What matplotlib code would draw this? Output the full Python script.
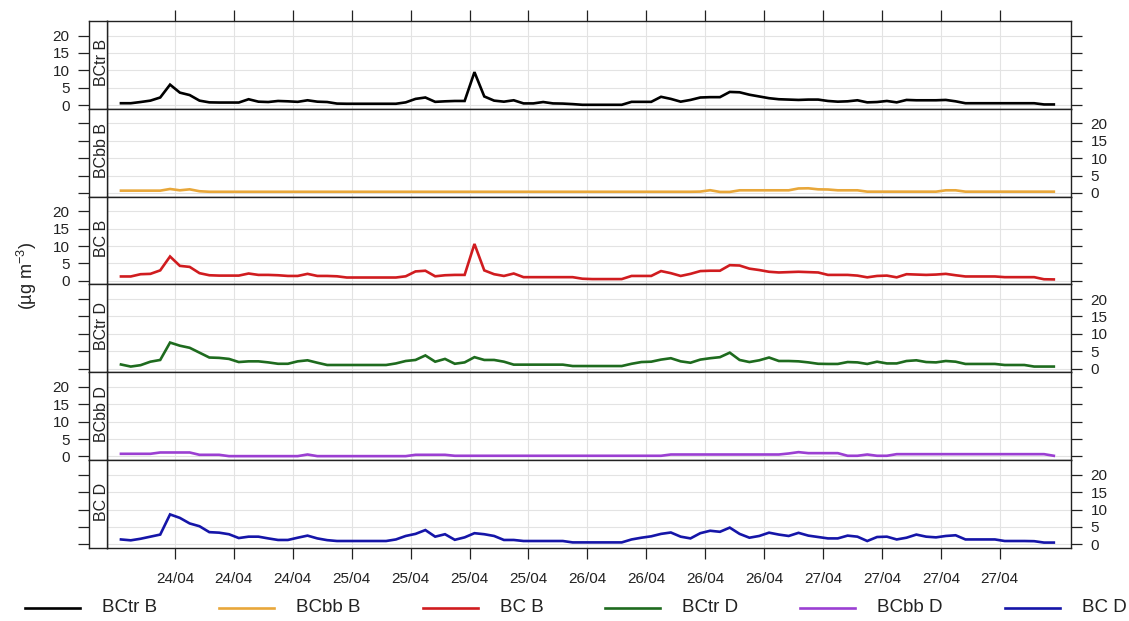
import numpy as np
import pandas as pd
import matplotlib
matplotlib.use("Agg")
import matplotlib.pyplot as plt
import matplotlib.dates as mdates
from matplotlib.lines import Line2D

plt.rcParams['font.family'] = ['Liberation Sans', 'DejaVu Sans']
plt.rcParams['mathtext.fontset'] = 'custom'
plt.rcParams['mathtext.rm'] = 'Liberation Sans'

# hourly black carbon concentrations, 24/04 00:30 onwards
times = pd.date_range('2019-04-24 00:30', periods=96, freq='h')

bctr_b = [0.55, 0.55, 0.9, 1.3, 2.2, 5.9, 3.6, 2.9, 1.3, 0.8, 0.75, 0.75,
          0.75, 1.7, 1.0, 0.9, 1.2, 1.1, 0.95, 1.4, 1.0, 0.9, 0.45, 0.4,
          0.4, 0.4, 0.4, 0.4, 0.4, 0.8, 1.8, 2.2, 0.95, 1.1, 1.2, 1.2,
          9.5, 2.5, 1.3, 1.0, 1.4, 0.5, 0.5, 0.9, 0.5, 0.45, 0.3, 0.1,
          0.1, 0.1, 0.1, 0.1, 0.95, 0.95, 0.95, 2.4, 1.8, 1.0, 1.5, 2.2,
          2.3, 2.3, 3.8, 3.7, 3.0, 2.5, 2.0, 1.7, 1.6, 1.5, 1.6, 1.6,
          1.2, 1.0, 1.1, 1.4, 0.8, 0.9, 1.2, 0.8, 1.5, 1.4, 1.4, 1.4,
          1.5, 1.1, 0.55, 0.55, 0.55, 0.55, 0.55, 0.55, 0.55, 0.55, 0.2, 0.2]

bcbb_b = [0.67, 0.67, 0.67, 0.67, 0.67, 1.15, 0.77, 1.05, 0.5, 0.35, 0.35, 0.35,
          0.35, 0.35, 0.35, 0.35, 0.35, 0.35, 0.35, 0.35, 0.35, 0.35, 0.35, 0.35,
          0.35, 0.35, 0.35, 0.35, 0.35, 0.35, 0.35, 0.35, 0.35, 0.35, 0.35, 0.35,
          0.35, 0.35, 0.35, 0.35, 0.35, 0.35, 0.35, 0.35, 0.35, 0.35, 0.35, 0.35,
          0.35, 0.35, 0.35, 0.35, 0.35, 0.35, 0.35, 0.35, 0.35, 0.35, 0.35, 0.4,
          0.8, 0.3, 0.3, 0.77, 0.77, 0.77, 0.77, 0.77, 0.77, 1.3, 1.35, 1.05,
          1.0, 0.77, 0.77, 0.77, 0.38, 0.38, 0.38, 0.38, 0.38, 0.38, 0.38, 0.38,
          0.77, 0.77, 0.38, 0.38, 0.38, 0.38, 0.38, 0.38, 0.38, 0.38, 0.38, 0.38]

bc_b = [1.25, 1.25, 1.9, 2.0, 3.0, 7.0, 4.3, 4.0, 2.2, 1.6, 1.5, 1.5,
        1.5, 2.1, 1.7, 1.7, 1.6, 1.4, 1.4, 2.0, 1.4, 1.4, 1.3, 0.95,
        0.95, 0.95, 0.95, 0.95, 0.95, 1.3, 2.7, 2.9, 1.3, 1.6, 1.7, 1.7,
        10.6, 3.0, 1.9, 1.4, 2.1, 1.05, 1.05, 1.05, 1.05, 1.05, 1.05, 0.6,
        0.5, 0.5, 0.5, 0.5, 1.4, 1.4, 1.4, 2.8, 2.2, 1.4, 2.0, 2.8,
        2.9, 2.9, 4.5, 4.4, 3.5, 3.1, 2.6, 2.4, 2.5, 2.6, 2.5, 2.4,
        1.7, 1.7, 1.7, 1.5, 1.0, 1.4, 1.5, 1.0, 1.9, 1.8, 1.7, 1.8,
        2.0, 1.6, 1.25, 1.25, 1.25, 1.25, 1.05, 1.05, 1.05, 1.05, 0.45, 0.4]

bctr_d = [1.2, 0.6, 1.0, 2.0, 2.5, 7.5, 6.6, 6.0, 4.6, 3.2, 3.1, 2.8,
          1.9, 2.1, 2.1, 1.8, 1.4, 1.4, 2.1, 2.4, 1.7, 1.05, 1.05, 1.05,
          1.05, 1.05, 1.05, 1.05, 1.5, 2.2, 2.5, 3.8, 2.0, 2.8, 1.4, 1.8,
          3.3, 2.5, 2.5, 2.0, 1.15, 1.15, 1.15, 1.15, 1.15, 1.15, 0.75, 0.75,
          0.75, 0.75, 0.75, 0.75, 1.4, 1.9, 2.0, 2.6, 3.0, 2.1, 1.7, 2.6,
          3.0, 3.3, 4.6, 2.5, 1.9, 2.4, 3.2, 2.2, 2.2, 2.1, 1.8, 1.4,
          1.35, 1.35, 1.9, 1.8, 1.35, 2.0, 1.5, 1.5, 2.2, 2.4, 1.9, 1.8,
          2.2, 2.0, 1.35, 1.35, 1.35, 1.35, 1.05, 1.05, 1.05, 0.6, 0.6, 0.6]

bcbb_d = [0.77, 0.77, 0.77, 0.77, 1.15, 1.15, 1.15, 1.15, 0.48, 0.48, 0.48, 0.1,
          0.1, 0.1, 0.1, 0.1, 0.1, 0.1, 0.1, 0.57, 0.1, 0.1, 0.1, 0.1,
          0.1, 0.1, 0.1, 0.1, 0.1, 0.1, 0.48, 0.48, 0.48, 0.48, 0.2, 0.2,
          0.2, 0.2, 0.2, 0.2, 0.2, 0.2, 0.2, 0.2, 0.2, 0.2, 0.2, 0.2,
          0.2, 0.2, 0.2, 0.2, 0.2, 0.2, 0.2, 0.2, 0.57, 0.57, 0.57, 0.57,
          0.57, 0.57, 0.57, 0.57, 0.57, 0.57, 0.57, 0.57, 0.86, 1.25, 0.96, 0.96,
          0.96, 0.96, 0.2, 0.2, 0.57, 0.2, 0.2, 0.67, 0.67, 0.67, 0.67, 0.67,
          0.67, 0.67, 0.67, 0.67, 0.67, 0.67, 0.67, 0.67, 0.67, 0.67, 0.67, 0.2]

bc_d = [1.4, 1.15, 1.6, 2.2, 2.8, 8.6, 7.6, 6.0, 5.2, 3.5, 3.35, 2.9,
        1.8, 2.2, 2.2, 1.7, 1.25, 1.25, 1.9, 2.5, 1.7, 1.2, 0.95, 0.95,
        0.95, 0.95, 0.95, 0.95, 1.4, 2.4, 3.0, 4.1, 2.2, 2.9, 1.3, 2.0,
        3.2, 2.9, 2.4, 1.25, 1.25, 0.95, 0.95, 0.95, 0.95, 0.95, 0.55, 0.55,
        0.55, 0.55, 0.55, 0.55, 1.4, 1.9, 2.3, 3.0, 3.4, 2.2, 1.7, 3.2,
        3.9, 3.6, 4.8, 3.0, 1.9, 2.4, 3.35, 2.8, 2.4, 3.3, 2.5, 2.1,
        1.7, 1.7, 2.5, 2.2, 0.95, 2.1, 2.2, 1.4, 1.9, 2.8, 2.2, 2.0,
        2.4, 2.6, 1.4, 1.4, 1.4, 1.4, 0.95, 0.95, 0.95, 0.9, 0.5, 0.5]

names = ['BCtr B', 'BCbb B', 'BC B', 'BCtr D', 'BCbb D', 'BC D']
series = [bctr_b, bcbb_b, bc_b, bctr_d, bcbb_d, bc_d]
colors = ['#000000', '#E8A73A', '#D01C1F', '#1E6B1E', '#9B3FD2', '#1515A8']

W, H = 1129, 621
fig = plt.figure(figsize=(W / 100, H / 100), dpi=100)

x_left, x_strip, x_right = 89, 107, 1071
y_top, y_bot = 21, 548
ph = (y_bot - y_top) / 6

start = pd.Timestamp('2019-04-24 00:00')
xlim = (start + pd.Timedelta(hours=-0.92), start + pd.Timedelta(hours=97.25))
xticks = [start + pd.Timedelta(hours=6 * k) for k in range(1, 16)]
yticks = [0, 5, 10, 15, 20]
ylim = (-1.06, 24.2)
grid_col = '#e3e3e3'
tick_kw = dict(length=8, width=0.9, labelsize=11, pad=6, colors='#222222')

for i, (name, vals, col) in enumerate(zip(names, series, colors)):
    top = y_top + i * ph
    rect_y = (H - top - ph) / H
    ax = fig.add_axes([x_strip / W, rect_y, (x_right - x_strip) / W, ph / H])
    sx = fig.add_axes([x_left / W, rect_y, (x_strip - x_left) / W, ph / H])

    ax.plot(times, vals, color=col, lw=1.9, solid_joinstyle='miter')
    ax.set_xlim(xlim)
    ax.set_ylim(ylim)
    ax.set_xticks(xticks)
    ax.xaxis.set_major_formatter(mdates.DateFormatter('%d/%m'))
    ax.set_yticks(yticks)
    ax.grid(True, color=grid_col, lw=0.8)
    ax.set_axisbelow(True)
    for s in ax.spines.values():
        s.set_linewidth(1.0)
        s.set_color('#222222')

    # alternate the labelled side of the y axis
    label_left = (i % 2 == 0)
    ax.tick_params(axis='y', left=False, labelleft=False, right=True,
                   labelright=not label_left, **tick_kw)
    ax.tick_params(axis='x', top=(i == 0), labeltop=False,
                   bottom=(i == 5), labelbottom=(i == 5), **tick_kw)
    if i == 5:
        ax.tick_params(axis='x', pad=9)

    sx.set_ylim(ylim)
    sx.set_xticks([])
    sx.set_yticks(yticks)
    sx.tick_params(axis='y', labelleft=label_left, **tick_kw)
    for s in sx.spines.values():
        s.set_linewidth(1.0)
        s.set_color('#222222')
    sx.text(0.93, 0.53, name, rotation=90, rotation_mode='anchor',
            ha='center', va='baseline', fontsize=11.5, color='#222222',
            transform=sx.transAxes)

fig.text(27 / W, 1 - 276 / H, '(µg m$^{-3}$)', rotation=90,
         ha='center', va='center', fontsize=13, color='#222222')

# key along the bottom
key_x = [25, 219, 423, 605, 800, 1005]
key_y = 1 - 608 / H
for kx, name, col in zip(key_x, names, colors):
    fig.add_artist(Line2D([kx / W, (kx + 55) / W], [key_y, key_y],
                          color=col, lw=1.9, transform=fig.transFigure))
    fig.text((kx + 77) / W, key_y, name, ha='left', va='center',
             fontsize=13.5, color='#222222')

fig.savefig('out.png', dpi=100, facecolor='white')
